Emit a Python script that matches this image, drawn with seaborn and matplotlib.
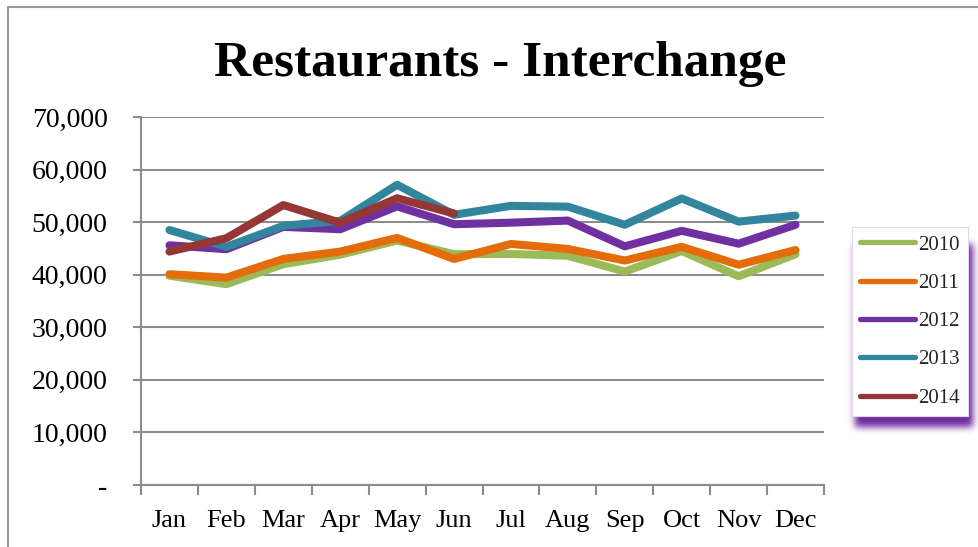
import numpy as np
import pandas as pd
import matplotlib
matplotlib.use("Agg")
import matplotlib.pyplot as plt
from matplotlib.lines import Line2D
from matplotlib.ticker import FixedLocator, FuncFormatter
import seaborn as sns

# Monthly restaurant interchange totals by year
months = ["Jan", "Feb", "Mar", "Apr", "May", "Jun",
          "Jul", "Aug", "Sep", "Oct", "Nov", "Dec"]
years = ["2010", "2011", "2012", "2013", "2014"]
vals_2010 = [39800, 38200, 42000, 43800, 46500, 43900, 43950, 43600, 40600, 44500, 39700, 43900]
vals_2011 = [40100, 39450, 43000, 44400, 47000, 43000, 45850, 44900, 42700, 45300, 41900, 44700]
vals_2012 = [45600, 44850, 49100, 48650, 53000, 49600, 49900, 50300, 45400, 48350, 45900, 49500]
vals_2013 = [48500, 45300, 49300, 50250, 57100, 51400, 53100, 52950, 49500, 54500, 50100, 51250]
vals_2014 = [44400, 46950, 53250, 49900, 54550, 51650]
colors = ["#9BBB59", "#E46C0A", "#7030A0", "#31859C", "#953735"]
y_ticks = [0, 10000, 20000, 30000, 40000, 50000, 60000, 70000]

series = [vals_2010, vals_2011, vals_2012, vals_2013, vals_2014]
rows = []
for yr, vals in zip(years, series):
    for i, v in enumerate(vals):
        rows.append({"month": months[i], "pos": i, "year": yr, "value": v})
df = pd.DataFrame(rows)

sns.set_theme(style="white")
plt.rcParams["font.family"] = ["Liberation Serif", "DejaVu Serif"]

W, H = 979, 547
fig = plt.figure(figsize=(W / 100, H / 100), dpi=100)
fig.patch.set_facecolor("white")

def fx(px):
    return px / W

def fy(py):
    return 1 - py / H

ax = fig.add_axes([fx(141), fy(485), fx(824) - fx(141), fy(117) - fy(485)])
sns.lineplot(data=df, x="pos", y="value", hue="year", hue_order=years,
             palette=colors, linewidth=5.8, sort=False, legend=False, ax=ax)
for ln in ax.lines:
    ln.set_solid_capstyle("round")
    ln.set_solid_joinstyle("round")

grid_c = "#8C8C8C"
ax.set_xlim(-0.5, 11.5)
ax.set_ylim(0, 70000)
ax.set_xlabel("")
ax.set_ylabel("")

# category boundaries carry the tick marks, centres carry the month labels
ax.xaxis.set_major_locator(FixedLocator(np.arange(-0.5, 12, 1.0)))
ax.xaxis.set_major_formatter(FuncFormatter(lambda v, p: ""))
ax.xaxis.set_minor_locator(FixedLocator(np.arange(12)))
ax.xaxis.set_minor_formatter(FuncFormatter(lambda v, p: months[int(round(v))]))
ax.tick_params(axis="x", which="major", direction="out", length=7, width=1.5,
               color=grid_c, bottom=True)
ax.tick_params(axis="x", which="minor", length=0, pad=18, labelsize=19,
               labelcolor="black", bottom=True)

ax.set_yticks(y_ticks)
ax.yaxis.set_major_formatter(FuncFormatter(lambda v, p: "-" if v == 0 else f"{v:,.0f}"))
ax.tick_params(axis="y", direction="out", length=6, width=1.5, color=grid_c,
               pad=18, labelsize=20, labelcolor="black", left=True)

ax.grid(axis="y", color=grid_c, linewidth=1.5)
ax.grid(axis="x", visible=False)
ax.set_axisbelow(True)
for side in ["top", "right"]:
    ax.spines[side].set_visible(False)
for side in ["left", "bottom"]:
    ax.spines[side].set_color(grid_c)
    ax.spines[side].set_linewidth(1.5)

# title
fig.text(fx(500), fy(76), "Restaurants - Interchange", ha="center", va="baseline",
         fontsize=37, fontweight="bold", color="black")

# outer frame (left and top edges)
fig.add_artist(Line2D([fx(8), fx(8)], [fy(7), 0], transform=fig.transFigure,
                      color="#9A9A9A", linewidth=1.5))
fig.add_artist(Line2D([fx(8), 1], [fy(7), fy(7)], transform=fig.transFigure,
                      color="#9A9A9A", linewidth=1.5))

# soft purple shadow behind the legend box
sx0, sx1, sy0, sy1 = 835, 979, 210, 450
sw, sh = sx1 - sx0, sy1 - sy0
mask = np.zeros((sh, sw))
mask[(244 - sy0):(427 - sy0), (855 - sx0):(973 - sx0)] = 1.0
k = np.exp(-0.5 * (np.arange(-12, 13) / 3.5) ** 2)
k /= k.sum()
mask = np.apply_along_axis(lambda r: np.convolve(r, k, mode="same"), 1, mask)
mask = np.apply_along_axis(lambda c: np.convolve(c, k, mode="same"), 0, mask)
rgba = np.zeros((sh, sw, 4))
rgba[..., 0] = 0x70 / 255
rgba[..., 1] = 0x30 / 255
rgba[..., 2] = 0xA0 / 255
rgba[..., 3] = np.clip(mask * 1.05, 0, 1)
sax = fig.add_axes([fx(sx0), fy(sy1), fx(sx1) - fx(sx0), fy(sy0) - fy(sy1)], zorder=4)
sax.imshow(rgba, aspect="auto", interpolation="bilinear")
sax.axis("off")

handles = [Line2D([0], [0], color=c, linewidth=3.8, solid_capstyle="round")
           for c in colors]
leg = fig.legend(handles, years, loc="upper left",
                 bbox_to_anchor=(fx(852), fy(227)), bbox_transform=fig.transFigure,
                 fontsize=15, handlelength=2.65, handletextpad=0.15,
                 labelspacing=0.9, borderpad=0.38, borderaxespad=0,
                 frameon=True, fancybox=False, framealpha=1, edgecolor="#E4D6EE")
leg.get_frame().set_linewidth(0.8)
leg.set_zorder(6)

fig.savefig("out.png", dpi=100)
